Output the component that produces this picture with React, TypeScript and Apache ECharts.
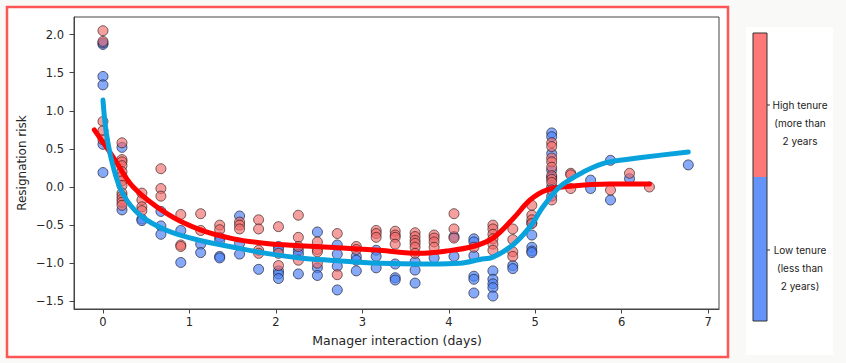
import React, { useEffect, useRef } from "react";
import * as echarts from "echarts";

// Tick values
const xTicks = [0, 1, 2, 3, 4, 5, 6, 7];
const yTicks = [-1.5, -1.0, -0.5, 0.0, 0.5, 1.0, 1.5, 2.0];

// Scatter points: low tenure (blue) [days, risk]
const lowTenure: [number, number][] = [
  [0, 1.87], [0, 1.89], [0, 1.45], [0, 1.34], [0, 0.56], [0, 0.19],
  [0.22, 0.52], [0.22, -0.3],
  [0.45, -0.42], [0.45, -0.44],
  [0.67, -0.32], [0.67, -0.51], [0.67, -0.62],
  [0.9, -0.57], [0.9, -0.99],
  [1.13, -0.75], [1.13, -0.86],
  [1.35, -0.66], [1.35, -0.7], [1.35, -0.91], [1.35, -0.93],
  [1.58, -0.38], [1.58, -0.74], [1.58, -0.88],
  [1.8, -1.08],
  [2.03, -0.78], [2.03, -0.82], [2.03, -1.1], [2.03, -1.14], [2.03, -1.2],
  [2.26, -0.83], [2.26, -0.88], [2.26, -1.14],
  [2.48, -0.59], [2.48, -1.06], [2.48, -1.16],
  [2.71, -0.76], [2.71, -0.88], [2.71, -1.04], [2.71, -1.35],
  [2.93, -0.91], [2.93, -0.96], [2.93, -1.1],
  [3.16, -0.83], [3.16, -0.91], [3.16, -1.06],
  [3.38, -1.01], [3.38, -1.19], [3.38, -1.22],
  [3.61, -0.98], [3.61, -1.09], [3.61, -1.26],
  [3.83, -0.93],
  [4.06, -0.65], [4.06, -0.91],
  [4.29, -0.68], [4.29, -0.72], [4.29, -0.9], [4.29, -1.17], [4.29, -1.21], [4.29, -1.39],
  [4.51, -1.1], [4.51, -1.21], [4.51, -1.27], [4.51, -1.32], [4.51, -1.43],
  [4.74, -1.03], [4.74, -1.07],
  [4.96, -0.47], [4.96, -0.63], [4.96, -0.79], [4.96, -0.84], [4.96, -0.86],
  [5.19, 0.71], [5.19, 0.66], [5.19, 0.44], [5.19, 0.22], [5.19, 0.13], [5.19, 0.0], [5.19, -0.12],
  [5.64, 0.09], [5.64, -0.02],
  [5.87, 0.35], [5.87, -0.17],
  [6.09, 0.11],
  [6.77, 0.29],
];

// Scatter points: high tenure (red) [days, risk]
const highTenure: [number, number][] = [
  [0, 2.05], [0, 1.91], [0, 0.86], [0, 0.74], [0, 0.62],
  [0.22, 0.58], [0.22, 0.36], [0.22, 0.33], [0.22, 0.28], [0.22, 0.2], [0.22, 0.14],
  [0.22, 0.08], [0.22, 0.02], [0.22, -0.08], [0.22, -0.12], [0.22, -0.16], [0.22, -0.2], [0.22, -0.24],
  [0.45, -0.08], [0.45, -0.17], [0.45, -0.26], [0.45, -0.31],
  [0.67, 0.24], [0.67, -0.02], [0.67, -0.12],
  [0.9, -0.36], [0.9, -0.76], [0.9, -0.78],
  [1.13, -0.35], [1.13, -0.57],
  [1.35, -0.5], [1.35, -0.56],
  [1.58, -0.46], [1.58, -0.5], [1.58, -0.55],
  [1.8, -0.43], [1.8, -0.55], [1.8, -0.83], [1.8, -0.87],
  [2.03, -0.52], [2.03, -0.87], [2.03, -1.03],
  [2.26, -0.37], [2.26, -0.66], [2.26, -0.78], [2.26, -0.96],
  [2.48, -0.72], [2.48, -0.82], [2.48, -0.85], [2.48, -1.0],
  [2.71, -0.61], [2.71, -1.15],
  [2.93, -0.78], [2.93, -0.82],
  [3.16, -0.57], [3.16, -0.61], [3.16, -0.66],
  [3.38, -0.58], [3.38, -0.63], [3.38, -0.66], [3.38, -0.75],
  [3.61, -0.6], [3.61, -0.65], [3.61, -0.7], [3.61, -0.74], [3.61, -0.79], [3.61, -0.87],
  [3.83, -0.63], [3.83, -0.67], [3.83, -0.72], [3.83, -0.79],
  [4.06, -0.35], [4.06, -0.55], [4.06, -0.67],
  [4.29, -0.79],
  [4.51, -0.5], [4.51, -0.55], [4.51, -0.62], [4.51, -0.68], [4.51, -0.75], [4.51, -0.83],
  [4.74, -0.55], [4.74, -0.69], [4.74, -0.85], [4.74, -0.91],
  [4.96, -0.24], [4.96, -0.37], [4.96, -0.43], [4.96, -0.48],
  [5.19, 0.58], [5.19, 0.53], [5.19, 0.38], [5.19, 0.33], [5.19, 0.26], [5.19, 0.15],
  [5.19, 0.1], [5.19, 0.06], [5.19, -0.04], [5.19, -0.17],
  [5.41, 0.18], [5.41, 0.16], [5.41, -0.02],
  [5.87, -0.04],
  [6.09, 0.18],
  [6.32, 0.0],
];

// Trend curves
const highTrend: [number, number][] = [
  [-0.1, 0.75], [0.12, 0.39], [0.35, 0.0], [0.74, -0.35], [1.12, -0.56], [1.51, -0.68],
  [1.89, -0.74], [2.28, -0.77], [2.62, -0.79], [3.2, -0.83], [3.66, -0.87], [3.97, -0.84],
  [4.28, -0.78], [4.51, -0.67], [4.74, -0.42], [4.94, -0.17], [5.13, -0.04], [5.4, 0.01],
  [5.86, 0.04], [6.32, 0.04],
];
const lowTrend: [number, number][] = [
  [0, 1.14], [0.04, 0.7], [0.12, 0.26], [0.23, -0.09], [0.43, -0.37], [0.74, -0.57],
  [1.12, -0.7], [1.51, -0.79], [1.89, -0.87], [2.28, -0.93], [2.62, -0.96], [3.2, -1.0],
  [3.78, -1.01], [4.13, -1.0], [4.36, -0.95], [4.51, -0.92], [4.74, -0.76], [4.94, -0.52],
  [5.09, -0.26], [5.28, 0.0], [5.48, 0.15], [5.67, 0.26], [5.86, 0.33], [6.25, 0.39],
  [6.77, 0.46],
];

const xTitle = "Manager interaction (days)";
const yTitle = "Resignation risk";
const highLabel = ["High tenure", "(more than", "2 years"];
const lowLabel = ["Low tenure", "(less than", "2 years)"];

const fmtY = (v: number) => v.toFixed(1).replace("-", "\u2212");

export default function App() {
  const ref = useRef<HTMLDivElement>(null);
  useEffect(() => {
    if (!ref.current) return;
    const chart = echarts.init(ref.current, null, { renderer: "svg" });
    const axisFont = { fontFamily: "DejaVu Sans", fontSize: 11.5, color: "#262626" };
    const sideText = (lines: string[], y0: number) =>
      lines.map((t, i) => ({
        type: "text",
        x: 800,
        y: y0 + i * 18,
        silent: true,
        style: {
          text: t,
          fill: "#222",
          font: "10px Inter",
          align: "center",
          verticalAlign: "middle",
        },
      }));
    chart.setOption({
      animation: false,
      backgroundColor: "#f9f9f7",
      grid: {
        left: 74,
        top: 17,
        width: 645,
        height: 292,
        show: true,
        backgroundColor: "#ffffff",
        borderColor: "#444",
        borderWidth: 1,
      },
      xAxis: {
        type: "value",
        min: -0.335,
        max: 7.125,
        splitLine: { show: false },
        axisLine: { show: true, onZero: false, lineStyle: { color: "#444", width: 1 } },
        axisTick: { show: true, length: 4.5, customValues: xTicks, lineStyle: { color: "#444" } },
        axisLabel: {
          ...axisFont,
          margin: 7,
          customValues: xTicks,
          formatter: (v: number) => String(Math.round(v)),
        },
      },
      yAxis: {
        type: "value",
        min: -1.6,
        max: 2.23,
        splitLine: { show: false },
        axisLine: { show: true, onZero: false, lineStyle: { color: "#444", width: 1 } },
        axisTick: { show: true, length: 4.5, customValues: yTicks, lineStyle: { color: "#444" } },
        axisLabel: {
          ...axisFont,
          margin: 10,
          customValues: yTicks,
          formatter: (v: number) => fmtY(v),
        },
      },
      graphic: [
        {
          type: "rect",
          z: -10,
          silent: true,
          shape: { x: 7, y: 7, width: 721, height: 350 },
          style: { fill: "#ffffff", stroke: "#ff5555", lineWidth: 2.5 },
        },
        {
          type: "rect",
          z: -10,
          silent: true,
          shape: { x: 746, y: 27, width: 87, height: 328 },
          style: { fill: "#ffffff" },
        },
        {
          type: "rect",
          silent: true,
          shape: { x: 753, y: 33, width: 14, height: 144 },
          style: { fill: "#ff7878" },
        },
        {
          type: "rect",
          silent: true,
          shape: { x: 753, y: 177, width: 14, height: 144 },
          style: { fill: "#6494fa" },
        },
        {
          type: "rect",
          silent: true,
          shape: { x: 753, y: 33, width: 14, height: 288 },
          style: { fill: "none", stroke: "#333", lineWidth: 1 },
        },
        {
          type: "line",
          silent: true,
          shape: { x1: 767, y1: 105, x2: 770, y2: 105 },
          style: { stroke: "#333", lineWidth: 1 },
        },
        {
          type: "line",
          silent: true,
          shape: { x1: 767, y1: 250, x2: 770, y2: 250 },
          style: { stroke: "#333", lineWidth: 1 },
        },
        ...sideText(highLabel, 105),
        ...sideText(lowLabel, 250),
        {
          type: "text",
          x: 397,
          y: 340,
          silent: true,
          style: {
            text: xTitle,
            fill: "#262626",
            font: "12.5px DejaVu Sans",
            align: "center",
            verticalAlign: "middle",
          },
        },
        {
          type: "text",
          x: 22,
          y: 163,
          rotation: Math.PI / 2,
          silent: true,
          style: {
            text: yTitle,
            fill: "#262626",
            font: "12px DejaVu Sans",
            align: "center",
            verticalAlign: "middle",
          },
        },
      ],
      series: [
        {
          type: "scatter",
          name: "Low tenure",
          data: lowTenure,
          symbolSize: 10,
          itemStyle: {
            color: "rgba(78,130,245,0.85)",
            borderColor: "rgba(25,25,45,0.85)",
            borderWidth: 1,
          },
          z: 2,
        },
        {
          type: "scatter",
          name: "High tenure",
          data: highTenure,
          symbolSize: 10,
          itemStyle: {
            color: "rgba(240,105,105,0.8)",
            borderColor: "rgba(40,20,20,0.8)",
            borderWidth: 1,
          },
          z: 2,
        },
        {
          type: "line",
          data: highTrend,
          showSymbol: false,
          smooth: 0.35,
          lineStyle: { color: "#ff0000", width: 5, cap: "round" },
          z: 3,
        },
        {
          type: "line",
          data: lowTrend,
          showSymbol: false,
          smooth: 0.35,
          lineStyle: { color: "#0aa2dc", width: 5, cap: "round" },
          z: 4,
        },
      ],
    });
    return () => chart.dispose();
  }, []);
  return (
    <div
      ref={ref}
      style={{ position: "absolute", left: 0, top: 0, width: 846, height: 363 }}
    />
  );
}
